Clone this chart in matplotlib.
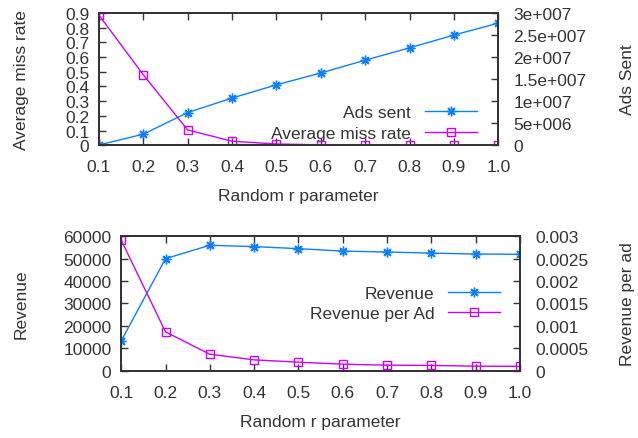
import numpy as np
import matplotlib
matplotlib.use("Agg")
import matplotlib.pyplot as plt

plt.rcParams['font.family'] = ['Liberation Sans', 'DejaVu Sans']

r_values = [0.1, 0.2, 0.3, 0.4, 0.5, 0.6, 0.7, 0.8, 0.9, 1.0]
r_labels = ["0.1", "0.2", "0.3", "0.4", "0.5", "0.6", "0.7", "0.8", "0.9", "1.0"]

# top panel
miss_rate = [0.886, 0.48, 0.104, 0.027, 0.008, 0.003, 0.002, 0.001, 0.001, 0.001]
ads_sent = [0.05e6, 2.5e6, 7.4e6, 10.7e6, 13.7e6, 16.4e6, 19.3e6, 22.1e6, 25.0e6, 27.7e6]
miss_ticks = [0, 0.1, 0.2, 0.3, 0.4, 0.5, 0.6, 0.7, 0.8, 0.9]
miss_tick_labels = ["0", "0.1", "0.2", "0.3", "0.4", "0.5", "0.6", "0.7", "0.8", "0.9"]
ads_ticks = [0, 5e6, 1e7, 1.5e7, 2e7, 2.5e7, 3e7]
ads_tick_labels = ["0", "5e+006", "1e+007", "1.5e+007", "2e+007", "2.5e+007", "3e+007"]

# bottom panel
revenue = [13300, 49950, 55900, 55300, 54400, 53300, 52900, 52400, 52000, 51900]
revenue_per_ad = [0.00291, 0.000867, 0.00037, 0.000244, 0.000193, 0.000148,
                  0.000126, 0.00012, 0.000104, 0.0001]
rev_ticks = [0, 10000, 20000, 30000, 40000, 50000, 60000]
rev_tick_labels = ["0", "10000", "20000", "30000", "40000", "50000", "60000"]
rpa_ticks = [0, 0.0005, 0.001, 0.0015, 0.002, 0.0025, 0.003]
rpa_tick_labels = ["0", "0.0005", "0.001", "0.0015", "0.002", "0.0025", "0.003"]

BLUE = '#0a80ff'
MAGENTA = '#cc00ff'
AXCOL = '#333333'
TXT = '#333333'
STAR = (8, 2, 0)
FS = 12.5


def style_axes(ax, ax2):
    for a in (ax, ax2):
        for s in a.spines.values():
            s.set_color(AXCOL)
            s.set_linewidth(1.3)
    ax.tick_params(axis='both', direction='in', length=5, width=1, colors=AXCOL,
                   labelcolor=TXT, labelsize=FS)
    ax.tick_params(axis='x', top=True, pad=10)
    ax.tick_params(axis='y', pad=7)
    ax2.tick_params(axis='y', direction='in', length=5, width=1, colors=AXCOL,
                    labelcolor=TXT, labelsize=FS, pad=11)
    ax.set_xlim(0.1, 1.0)
    ax.set_xticks(r_values)
    ax.set_xticklabels(r_labels)
    ax.set_xlabel("Random r parameter", fontsize=FS, color=TXT, labelpad=10)


fig = plt.figure(figsize=(6.38, 4.39), dpi=100)

# ---- top ----
ax1 = fig.add_axes([0.155, 0.667, 0.626, 0.301])
ax1b = ax1.twinx()
l1, = ax1b.plot(r_values, ads_sent, color=BLUE, lw=1, marker=STAR, ms=7,
                mew=1, label="Ads sent")
l2, = ax1.plot(r_values, miss_rate, color=MAGENTA, lw=1, marker='s', ms=6,
               mfc='none', mew=1, label="Average miss rate")
ax1.set_ylim(0, 0.9)
ax1.set_yticks(miss_ticks)
ax1.set_yticklabels(miss_tick_labels)
ax1b.set_ylim(0, 3e7)
ax1b.set_yticks(ads_ticks)
ax1b.set_yticklabels(ads_tick_labels)
ax1.set_ylabel("Average miss rate", fontsize=FS, color=TXT, labelpad=26)
ax1b.set_ylabel("Ads Sent", fontsize=FS, color=TXT, labelpad=24)
style_axes(ax1, ax1b)
ax1.set_zorder(ax1b.get_zorder() + 1)
ax1.patch.set_visible(False)
ax1b.legend([l1, l2], ["Ads sent", "Average miss rate"], loc='lower right',
            bbox_to_anchor=(0.985, -0.085), frameon=False, markerfirst=False,
            fontsize=FS, handlelength=3.0, labelspacing=0.32, handletextpad=0.8,
            labelcolor=TXT)

# ---- bottom ----
ax2 = fig.add_axes([0.190, 0.153, 0.625, 0.307])
ax2b = ax2.twinx()
l3, = ax2.plot(r_values, revenue, color=BLUE, lw=1, marker=STAR, ms=7,
               mew=1, label="Revenue")
l4, = ax2b.plot(r_values, revenue_per_ad, color=MAGENTA, lw=1, marker='s', ms=6,
                mfc='none', mew=1, label="Revenue per Ad")
ax2.set_ylim(0, 60000)
ax2.set_yticks(rev_ticks)
ax2.set_yticklabels(rev_tick_labels)
ax2b.set_ylim(0, 0.003)
ax2b.set_yticks(rpa_ticks)
ax2b.set_yticklabels(rpa_tick_labels)
ax2.set_ylabel("Revenue", fontsize=FS, color=TXT, labelpad=25)
ax2b.set_ylabel("Revenue per ad", fontsize=FS, color=TXT, labelpad=23)
style_axes(ax2, ax2b)
ax2b.legend([l3, l4], ["Revenue", "Revenue per Ad"], loc='center right',
            bbox_to_anchor=(0.99, 0.50), frameon=False, markerfirst=False,
            fontsize=FS, handlelength=3.0, labelspacing=0.32, handletextpad=0.8,
            labelcolor=TXT)

fig.savefig("out.png", dpi=100)
